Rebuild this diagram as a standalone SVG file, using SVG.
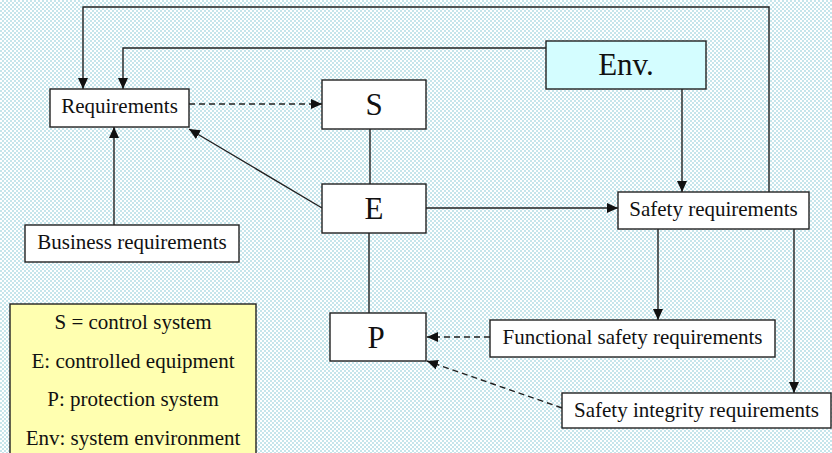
<svg xmlns="http://www.w3.org/2000/svg" width="832" height="453" viewBox="0 0 832 453">
<defs>
<pattern id="bg" width="4" height="4" patternUnits="userSpaceOnUse">
<rect width="4" height="4" fill="#c6e5eb"/>
<rect x="0" y="0" width="2" height="2" fill="#ffffff"/>
<rect x="2" y="2" width="2" height="2" fill="#ffffff"/>
</pattern>
<marker id="ah" viewBox="0 0 11 10" refX="11" refY="5" markerWidth="11" markerHeight="10" markerUnits="userSpaceOnUse" orient="auto">
<path d="M0,0 L11,5 L0,10 Z" fill="#111"/>
</marker>
</defs>
<style>
.box{fill:#ffffff;stroke:#222;stroke-width:1.4}
.t{font-family:"Liberation Serif","Times New Roman",serif;font-size:21px;fill:#111;text-anchor:middle}
.big{font-family:"Liberation Serif","Times New Roman",serif;font-size:31px;fill:#111;text-anchor:middle}
.ln{fill:none;stroke:#222;stroke-width:1.4}
.dash{stroke-dasharray:6,4}
</style>
<rect width="832" height="453" fill="url(#bg)"/>
<g id="connectors">
<path class="ln" d="M769,192 V7 H83 V89" marker-end="url(#ah)"/>
<path class="ln" d="M546,48 H123 V89" marker-end="url(#ah)"/>
<path class="ln dash" d="M189,104 H322" marker-end="url(#ah)"/>
<path class="ln" d="M370,129 V184"/>
<path class="ln" d="M322,208 L189,129" marker-end="url(#ah)"/>
<path class="ln" d="M114,225 V127" marker-end="url(#ah)"/>
<path class="ln" d="M682,89 V192" marker-end="url(#ah)"/>
<path class="ln" d="M426,208 H618" marker-end="url(#ah)"/>
<path class="ln" d="M369,233 V313"/>
<path class="ln" d="M658,229 V320" marker-end="url(#ah)"/>
<path class="ln" d="M794,229 V393" marker-end="url(#ah)"/>
<path class="ln dash" d="M490,337 H427" marker-end="url(#ah)"/>
<path class="ln dash" d="M562,408 L427,361" marker-end="url(#ah)"/>
</g>
<g id="requirements">
<rect class="box" x="50" y="89" width="139" height="38"/>
<text class="t" x="119.5" y="113">Requirements</text>
</g>
<g id="env">
<rect x="546" y="41" width="160" height="48" fill="#d4fdff" stroke="#222" stroke-width="1.4"/>
<text class="big" x="626" y="75">Env.</text>
</g>
<g id="S">
<rect class="box" x="322" y="80" width="104" height="49"/>
<text class="big" x="374" y="115">S</text>
</g>
<g id="E">
<rect class="box" x="322" y="184" width="104" height="49"/>
<text class="big" x="374" y="219">E</text>
</g>
<g id="P">
<rect class="box" x="330" y="313" width="96" height="48"/>
<text class="big" x="376" y="348">P</text>
</g>
<g id="business">
<rect class="box" x="25" y="225" width="214" height="37"/>
<text class="t" x="132" y="249">Business requirements</text>
</g>
<g id="safety">
<rect class="box" x="618" y="192" width="191" height="37"/>
<text class="t" x="713.5" y="216">Safety requirements</text>
</g>
<g id="functional">
<rect class="box" x="490" y="320" width="285" height="37"/>
<text class="t" x="632.5" y="344">Functional safety requirements</text>
</g>
<g id="integrity">
<rect class="box" x="562" y="393" width="269" height="35"/>
<text class="t" x="696.5" y="417">Safety integrity requirements</text>
</g>
<g id="legend">
<rect x="10" y="304" width="246" height="160" fill="#ffffb0" stroke="#222" stroke-width="1.4"/>
<text class="t" x="133" y="329">S = control system</text>
<text class="t" x="133" y="368">E: controlled equipment</text>
<text class="t" x="133" y="406">P: protection system</text>
<text class="t" x="133" y="445">Env: system environment</text>
</g>
</svg>
